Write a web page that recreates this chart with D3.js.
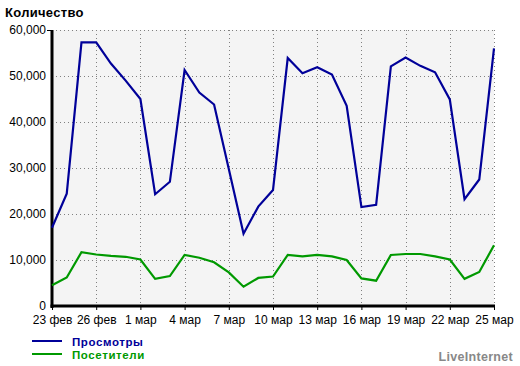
<!DOCTYPE html>
<html><head><meta charset="utf-8">
<script src="https://cdn.jsdelivr.net/npm/d3@7"></script>
<style>
body{margin:0;background:#fff;}
text{font-family:"Liberation Sans",Arial,sans-serif;}
</style></head>
<body><svg id="c" width="520" height="366"></svg>
<script>
const days = ["23 фев","24 фев","25 фев","26 фев","27 фев","28 фев","1 мар","2 мар","3 мар","4 мар","5 мар","6 мар","7 мар","8 мар","9 мар","10 мар","11 мар","12 мар","13 мар","14 мар","15 мар","16 мар","17 мар","18 мар","19 мар","20 мар","21 мар","22 мар","23 мар","24 мар","25 мар"];
const views = [17000,24400,57300,57300,52700,49000,45000,24300,27000,51300,46400,43800,29800,15700,21600,25200,53900,50600,51900,50300,43500,21500,22000,52100,54000,52200,50800,44900,23200,27500,56000];
const visitors = [4500,6200,11700,11200,10900,10700,10100,5900,6500,11100,10500,9500,7300,4200,6100,6400,11100,10800,11100,10800,10000,6000,5500,11100,11300,11300,10800,10100,5900,7400,13200];
const tickLabels = ["23 фев","26 фев","1 мар","4 мар","7 мар","10 мар","13 мар","16 мар","19 мар","22 мар","25 мар"];
const yTicks = [0,10000,20000,30000,40000,50000,60000];
const seriesNames = ["Просмотры","Посетители"];
const colors = ["#000099","#009900"];

const svg = d3.select("#c");
const L=52, R=494, T=30, B=306;
const x = d3.scalePoint().domain(days).range([L,R]);
const y = d3.scaleLinear().domain([0,60000]).range([B,T]);

svg.append("rect").attr("x",L).attr("y",T).attr("width",R-L).attr("height",B-T).attr("fill","#f4f4f4");

// grid
const g = svg.append("g");
g.selectAll(".vg").data(tickLabels).join("line")
  .attr("x1",d=>Math.round(x(d))+0.5).attr("x2",d=>Math.round(x(d))+0.5)
  .attr("y1",T).attr("y2",B)
  .attr("stroke","#808080").attr("stroke-width",1).attr("stroke-dasharray","1,3");
g.selectAll(".hg").data(yTicks.filter(v=>v>0)).join("line")
  .attr("x1",L).attr("x2",R+1)
  .attr("y1",d=>Math.round(y(d))+0.5).attr("y2",d=>Math.round(y(d))+0.5)
  .attr("stroke","#808080").attr("stroke-width",1).attr("stroke-dasharray","1,3");

// axes
const yAxis = d3.axisLeft(y).tickValues(yTicks).tickSize(0).tickPadding(6)
  .tickFormat(d3.format(","));
const ya = svg.append("g").attr("transform",`translate(${L},0)`).call(yAxis);
ya.select(".domain").remove();
ya.selectAll("text").attr("font-size",12).attr("fill","#000").attr("font-family","'Liberation Sans',Arial,sans-serif");

const xAxis = d3.axisBottom(x).tickValues(tickLabels).tickSize(4).tickPadding(5);
const xa = svg.append("g").attr("transform",`translate(0,${B})`).call(xAxis);
xa.select(".domain").remove();
xa.selectAll("line").attr("stroke","#000").attr("stroke-width",1);
xa.selectAll("text").attr("font-size",12).attr("fill","#000").attr("font-family","'Liberation Sans',Arial,sans-serif");

svg.append("line").attr("x1",L).attr("x2",L).attr("y1",T).attr("y2",B+2).attr("stroke","#000").attr("stroke-width",3);
svg.append("line").attr("x1",L-5).attr("x2",L).attr("y1",T+0.5).attr("y2",T+0.5).attr("stroke","#000").attr("stroke-width",1);
svg.append("line").attr("x1",L-1.5).attr("x2",R+1).attr("y1",B).attr("y2",B).attr("stroke","#000").attr("stroke-width",3);

// lines
const line = d3.line().x((d,i)=>x(days[i])).y(d=>y(d));
[visitors,views].forEach((s,k)=>{
  svg.append("path").datum(s).attr("d",line).attr("fill","none")
    .attr("stroke",colors[1-k]).attr("stroke-width",2.2).attr("stroke-linejoin","miter");
});

// title
svg.append("text").attr("x",5).attr("y",17).attr("font-size",13).attr("font-weight","bold").attr("letter-spacing",0.3).text("Количество");

// legend
seriesNames.forEach((n,i)=>{
  const yy = 341 + i*13;
  svg.append("line").attr("x1",32).attr("x2",62).attr("y1",yy).attr("y2",yy).attr("stroke",colors[i]).attr("stroke-width",2);
  svg.append("text").attr("x",72).attr("y",yy+4.5).attr("font-size",11.5).attr("font-weight","bold").attr("letter-spacing",0.6).attr("fill",colors[i]).text(n);
});
svg.append("text").attr("x",513).attr("y",361).attr("text-anchor","end").attr("font-size",12.5).attr("font-weight","bold").attr("letter-spacing",0.3).attr("fill","#888").text("LiveInternet");
</script></body></html>
